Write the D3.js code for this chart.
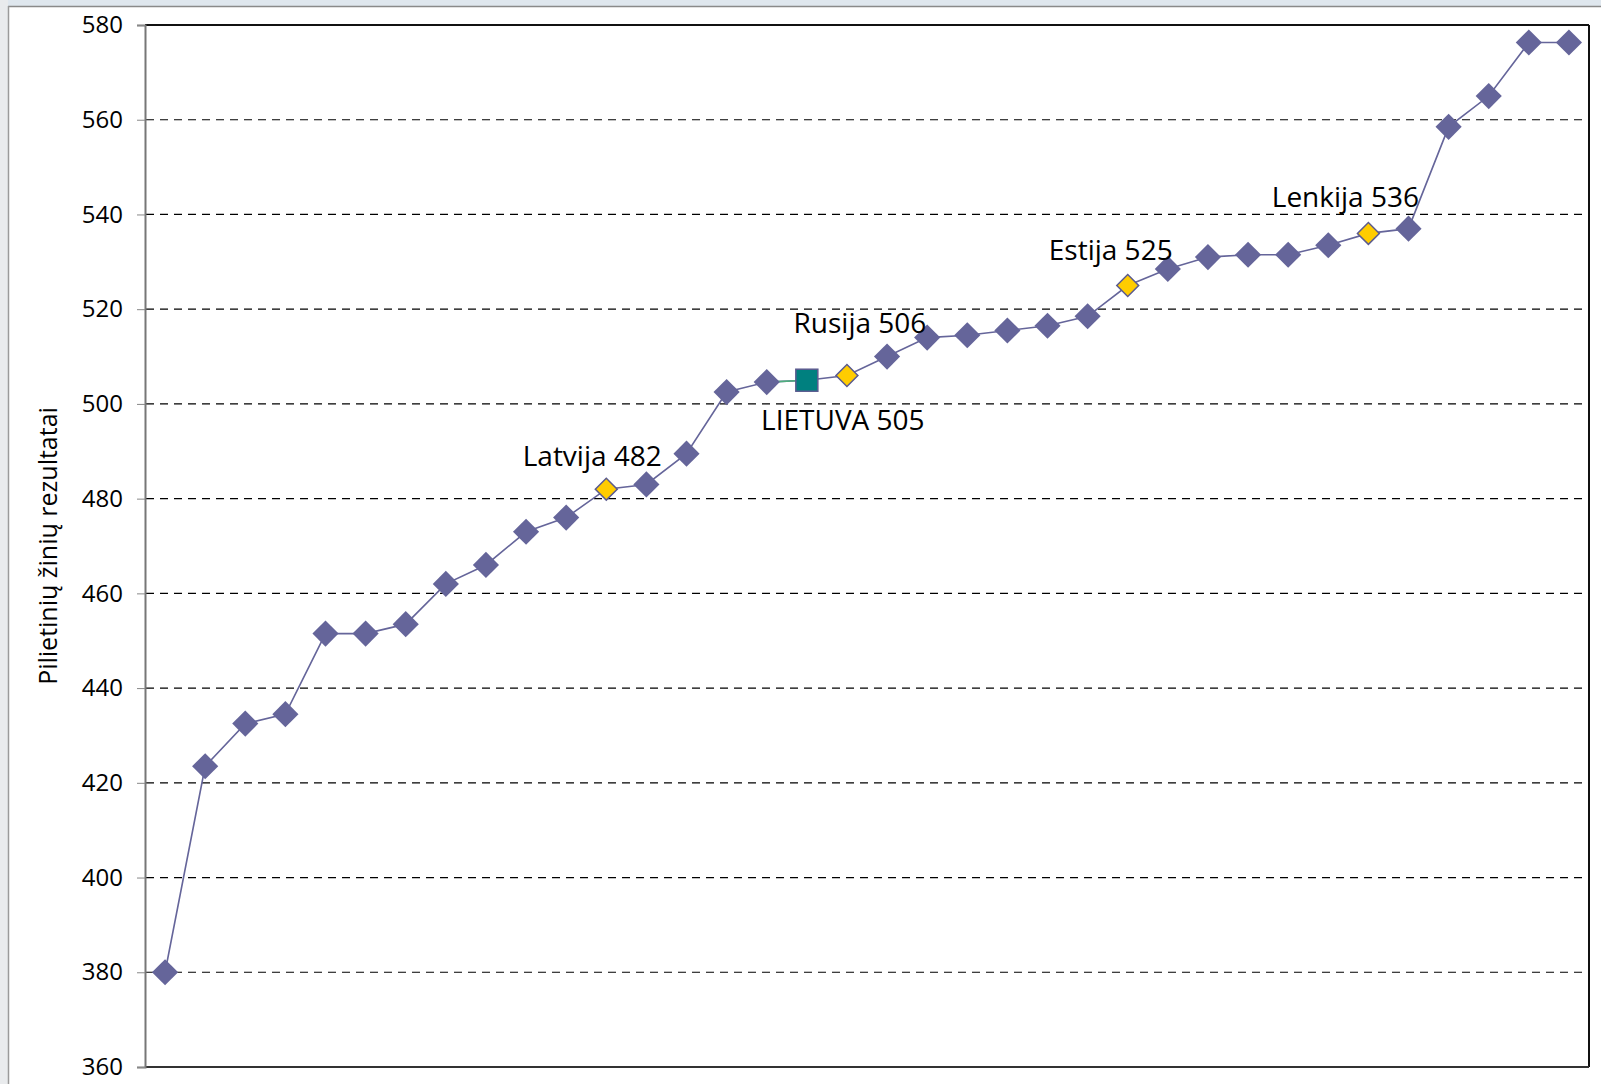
<!DOCTYPE html>
<html>
    <head>
        <meta charset="utf-8">
        <title>Pilietinių žinių rezultatai</title>
        <style type="text/css">
            body {
                margin: 0;
                background-color: #ffffff;
            }
            svg {
                display: block;
            }
            .tick text {
                font-family: "Open Sans", sans-serif;
                font-size: 24px;
                fill: #000;
            }
            .label {
                font-family: "Open Sans", sans-serif;
                font-size: 28px;
                fill: #000;
            }
            .ytitle {
                font-family: "Open Sans", sans-serif;
                font-size: 25px;
                fill: #000;
            }
        </style>
        <script src="https://d3js.org/d3.v7.min.js"></script>
    </head>
    <body>
        <svg id="chart" width="1601" height="1084"></svg>
        <script>
            // country results, sorted from lowest to highest
            const countries = d3.range(1, 37);
            const scores = [380, 423.5, 432.5, 434.5, 451.5, 451.5, 453.5, 462, 466, 473, 476, 482,
                            483, 489.5, 502.5, 504.6, 505, 506, 510, 514, 514.5, 515.5, 516.5, 518.5,
                            525, 528.5, 531, 531.5, 531.5, 533.5, 536, 537, 558.5, 565, 576.3, 576.3];
            // highlighted neighbours (index into scores) and their labels
            const highlightIdx = [11, 16, 17, 24, 30];
            const highlightText = ["Latvija 482", "LIETUVA 505", "Rusija 506", "Estija 525", "Lenkija 536"];
            const yTicks = [360, 380, 400, 420, 440, 460, 480, 500, 520, 540, 560, 580];
            const lithuania = 16;

            const svg = d3.select("#chart");
            const plotLeft = 145, plotRight = 1589, plotTop = 25, plotBottom = 1067;

            // slide background strips
            svg.append("rect").attr("x", 0).attr("y", 0).attr("width", 1601).attr("height", 6).attr("fill", "#dfe7ee");
            svg.append("rect").attr("x", 0).attr("y", 0).attr("width", 8).attr("height", 1084).attr("fill", "#e9ebed");
            svg.append("line").attr("x1", 8).attr("x2", 1601).attr("y1", 6.5).attr("y2", 6.5).attr("stroke", "#8a8a8a").attr("stroke-width", 1.5);
            svg.append("line").attr("x1", 8.5).attr("x2", 8.5).attr("y1", 6).attr("y2", 1084).attr("stroke", "#9a9a9a").attr("stroke-width", 1.5);

            const x = d3.scalePoint().domain(countries).range([plotLeft, plotRight]).padding(0.5);
            const y = d3.scaleLinear().domain([360, 580]).range([plotBottom, plotTop]);

            // dashed grid
            svg.append("g")
                .selectAll("line")
                .data(yTicks.filter(d => d > 360 && d < 580))
                .join("line")
                .attr("x1", plotLeft + 1)
                .attr("x2", plotRight - 4)
                .attr("y1", d => y(d))
                .attr("y2", d => y(d))
                .attr("stroke", "#000")
                .attr("stroke-width", 1.2)
                .attr("stroke-dasharray", "8,6");

            // frame
            svg.append("line").attr("x1", plotLeft).attr("x2", plotRight).attr("y1", plotTop).attr("y2", plotTop).attr("stroke", "#111").attr("stroke-width", 2);
            svg.append("line").attr("x1", plotRight).attr("x2", plotRight).attr("y1", plotTop).attr("y2", plotBottom).attr("stroke", "#111").attr("stroke-width", 2);
            svg.append("line").attr("x1", plotLeft).attr("x2", plotRight).attr("y1", plotBottom).attr("y2", plotBottom).attr("stroke", "#333").attr("stroke-width", 2);

            // y axis
            const yAxis = svg.append("g")
                .attr("transform", `translate(${plotLeft},0)`)
                .call(d3.axisLeft(y).tickValues(yTicks).tickSize(8).tickPadding(14));
            yAxis.select(".domain").attr("stroke", "#777").attr("stroke-width", 2);
            yAxis.selectAll(".tick line").attr("stroke", "#888");

            svg.append("text")
                .attr("class", "ytitle")
                .attr("transform", `translate(57,${(plotTop + plotBottom) / 2}) rotate(-90)`)
                .attr("text-anchor", "middle")
                .text("Pilietinių žinių rezultatai");

            // line
            const line = d3.line()
                .x((d, i) => x(countries[i]))
                .y(d => y(d));

            svg.append("path")
                .datum(scores)
                .attr("d", line)
                .attr("fill", "none")
                .attr("stroke", "#65659a")
                .attr("stroke-width", 1.6);

            svg.append("path")
                .datum(scores.slice(lithuania - 1, lithuania + 1))
                .attr("d", d3.line().x((d, i) => x(countries[lithuania - 1 + i])).y(d => y(d)))
                .attr("fill", "none")
                .attr("stroke", "#4fae7e")
                .attr("stroke-width", 1.6);

            // markers
            const marks = svg.append("g");
            scores.forEach((v, i) => {
                const cx = x(countries[i]), cy = y(v);
                if (i === lithuania) {
                    marks.append("rect")
                        .attr("x", cx - 11).attr("y", cy - 11)
                        .attr("width", 22).attr("height", 22)
                        .attr("fill", "#00807f")
                        .attr("stroke", "#5b5b8f")
                        .attr("stroke-width", 1.5);
                } else if (highlightIdx.includes(i)) {
                    marks.append("path")
                        .attr("transform", `translate(${cx},${cy}) rotate(45)`)
                        .attr("d", d3.symbol().type(d3.symbolSquare).size(15.5 * 15.5)())
                        .attr("fill", "#ffcc00")
                        .attr("stroke", "#5b5b8f")
                        .attr("stroke-width", 1.5);
                } else {
                    marks.append("path")
                        .attr("transform", `translate(${cx},${cy}) rotate(45)`)
                        .attr("d", d3.symbol().type(d3.symbolSquare).size(18.5 * 18.5)())
                        .attr("fill", "#65659a");
                }
            });

            // labels
            const labelOffset = {
                "Latvija 482": [-14, -23],
                "LIETUVA 505": [36, 50],
                "Rusija 506": [13, -42],
                "Estija 525": [-17, -26],
                "Lenkija 536": [-23, -26]
            };
            highlightIdx.forEach((idx, k) => {
                const t = highlightText[k];
                svg.append("text")
                    .attr("class", "label")
                    .attr("x", x(countries[idx]) + labelOffset[t][0])
                    .attr("y", y(scores[idx]) + labelOffset[t][1])
                    .attr("text-anchor", "middle")
                    .text(t);
            });
        </script>
    </body>
</html>
